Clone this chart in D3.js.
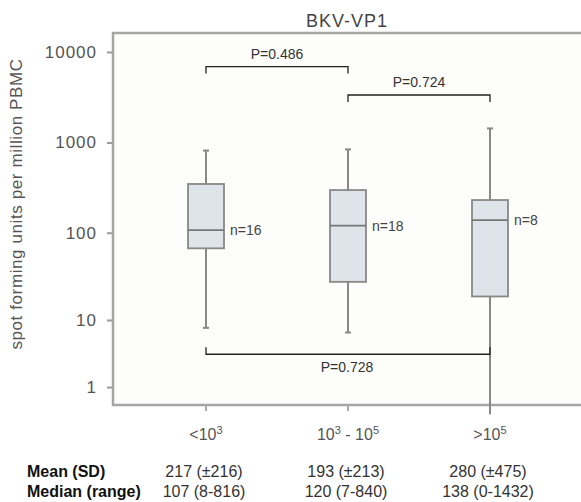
<!DOCTYPE html>
<html>
<head>
<meta charset="utf-8">
<script src="https://cdn.jsdelivr.net/npm/d3@7"></script>
<style>
  body { margin: 0; background: #fff; }
  text { font-family: "Liberation Sans", Arial, Helvetica, sans-serif; }
</style>
</head>
<body>
<script>
// groups and box stats
var groups = ["<10^3", "10^3 - 10^5", ">10^5"];
var counts = [16, 18, 8];
var mins    = [8, 7, 0];
var q1s     = [67, 28, 19];
var medians = [107, 120, 138];
var q3s     = [348, 298, 231];
var maxs    = [816, 840, 1432];

// table under the chart
var means  = ["217 (\u00b1216)", "193 (\u00b1213)", "280 (\u00b1475)"];
var ranges = ["107 (8-816)", "120 (7-840)", "138 (0-1432)"];

// comparisons: group index pairs, bracket level (in data units), p label
var pFrom  = [0, 1, 0];
var pTo    = [1, 2, 2];
var pLevel = [6900, 3350, 3.6];
var pText  = ["P=0.486", "P=0.724", "P=0.728"];

var yTicks = [1, 10, 100, 1000, 10000];

var W = 581, H = 502;
var frame = {left: 113, top: 33, right: 585, bottom: 405};

var svg = d3.select("body").append("svg")
    .attr("width", W)
    .attr("height", H);

// log(1 + x) style axis, zero sits just under the frame
var y = d3.scaleSymlog().constant(1)
    .domain([0, 10000])
    .range([414.3, 52]);

var x = d3.scalePoint()
    .domain(d3.range(groups.length))
    .range([206, 490]);

// plot background
svg.append("rect")
    .attr("x", frame.left).attr("y", frame.top)
    .attr("width", frame.right - frame.left)
    .attr("height", frame.bottom - frame.top)
    .attr("fill", "#fdfdfb");

// y axis
var yAxis = svg.append("g")
    .attr("transform", "translate(" + frame.left + ",0)")
    .call(d3.axisLeft(y).tickValues(yTicks).tickSize(6).tickPadding(10).tickFormat(d3.format("d")));
yAxis.select(".domain").remove();
yAxis.selectAll(".tick line").attr("stroke", "#999").attr("stroke-width", 2);
yAxis.selectAll(".tick text")
    .attr("font-size", 17)
    .attr("fill", "#555")
    .style("letter-spacing", "1px");

// x ticks
svg.append("g").selectAll("line")
  .data(groups)
  .join("line")
    .attr("x1", (d, i) => x(i)).attr("x2", (d, i) => x(i))
    .attr("y1", frame.bottom).attr("y2", frame.bottom + 6)
    .attr("stroke", "#aaa").attr("stroke-width", 2);

// x labels with superscripts
svg.append("g").selectAll("text")
  .data(groups)
  .join("text")
    .attr("x", (d, i) => x(i))
    .attr("y", 440)
    .attr("text-anchor", "middle")
    .attr("font-size", 16)
    .attr("fill", "#555")
    .each(function(d) {
      var t = d3.select(this), shift = 0;
      d.split(/(\^\d)/).forEach(function(part) {
        if (!part) return;
        if (part[0] === "^") {
          t.append("tspan").attr("font-size", 11).attr("dy", -6 - shift).text(part.slice(1));
          shift = -6;
        } else {
          t.append("tspan").attr("dy", -shift).text(part);
          shift = 0;
        }
      });
    });

// frame (left, top, bottom)
svg.append("path")
    .attr("d", "M" + frame.right + "," + frame.top + "H" + frame.left + "V" + frame.bottom + "H" + frame.right)
    .attr("fill", "none")
    .attr("stroke", "#a5a5a5")
    .attr("stroke-width", 2.5);

// boxes
var boxW = 36, capW = 6;
var boxes = svg.append("g").selectAll("g")
  .data(groups.map((g, i) => i))
  .join("g");

boxes.append("line")
    .attr("x1", i => x(i)).attr("x2", i => x(i))
    .attr("y1", i => y(maxs[i])).attr("y2", i => y(mins[i]))
    .attr("stroke", "#888").attr("stroke-width", 2);
boxes.append("line")
    .attr("x1", i => x(i) - capW / 2).attr("x2", i => x(i) + capW / 2)
    .attr("y1", i => y(maxs[i])).attr("y2", i => y(maxs[i]))
    .attr("stroke", "#888").attr("stroke-width", 2);
boxes.filter(i => mins[i] > 0).append("line")
    .attr("x1", i => x(i) - capW / 2).attr("x2", i => x(i) + capW / 2)
    .attr("y1", i => y(mins[i])).attr("y2", i => y(mins[i]))
    .attr("stroke", "#888").attr("stroke-width", 2);
boxes.append("rect")
    .attr("x", i => x(i) - boxW / 2)
    .attr("width", boxW)
    .attr("y", i => y(q3s[i]))
    .attr("height", i => y(q1s[i]) - y(q3s[i]))
    .attr("fill", "#dfe3ea")
    .attr("stroke", "#888").attr("stroke-width", 1.8);
boxes.append("line")
    .attr("x1", i => x(i) - boxW / 2).attr("x2", i => x(i) + boxW / 2)
    .attr("y1", i => y(medians[i])).attr("y2", i => y(medians[i]))
    .attr("stroke", "#777").attr("stroke-width", 1.8);
boxes.append("text")
    .attr("x", i => x(i) + boxW / 2 + 6)
    .attr("y", i => y(medians[i]) + 5)
    .attr("font-size", 14)
    .attr("fill", "#444")
    .text(i => "n=" + counts[i]);

// significance brackets
var br = svg.append("g").selectAll("g")
  .data(pText.map((p, i) => i))
  .join("g");
br.append("path")
    .attr("d", function(i) {
      var ly = y(pLevel[i]);
      var dir = pLevel[i] > 100 ? 7 : -7;  // upper brackets drop, lower one rises
      var x1 = x(pFrom[i]), x2 = x(pTo[i]);
      return "M" + x1 + "," + (ly + dir) + "V" + ly + "H" + x2 + "V" + (ly + dir);
    })
    .attr("fill", "none")
    .attr("stroke", "#222")
    .attr("stroke-width", 1.3);
br.append("text")
    .attr("x", i => (x(pFrom[i]) + x(pTo[i])) / 2 + (pLevel[i] > 100 ? 0 : -1))
    .attr("y", i => pLevel[i] > 100 ? y(pLevel[i]) - 8 : y(pLevel[i]) + 18)
    .attr("text-anchor", "middle")
    .attr("font-size", 14)
    .attr("fill", "#333")
    .text(i => pText[i]);

// title
svg.append("text")
    .attr("x", 347).attr("y", 27)
    .attr("text-anchor", "middle")
    .attr("font-size", 18)
    .attr("fill", "#444")
    .style("letter-spacing", "1px")
    .text("BKV-VP1");

// y label
svg.append("text")
    .attr("transform", "translate(22,204) rotate(-90)")
    .attr("text-anchor", "middle")
    .attr("font-size", 17)
    .attr("fill", "#555")
    .style("letter-spacing", "0.6px")
    .text("spot forming units per million PBMC");

// summary table
var rowY = [477, 497];
var rowNames = ["Mean (SD)", "Median (range)"];
svg.append("g").selectAll("text")
  .data(rowNames)
  .join("text")
    .attr("x", 27)
    .attr("y", (d, i) => rowY[i])
    .attr("font-size", 16)
    .attr("font-weight", "bold")
    .attr("fill", "#111")
    .text(d => d);
[means, ranges].forEach(function(row, r) {
  svg.append("g").selectAll("text")
    .data(row)
    .join("text")
      .attr("x", (d, i) => x(i) - 2)
      .attr("y", rowY[r])
      .attr("text-anchor", "middle")
      .attr("font-size", 16)
      .attr("fill", "#333")
      .text(d => d);
});
</script>
</body>
</html>
